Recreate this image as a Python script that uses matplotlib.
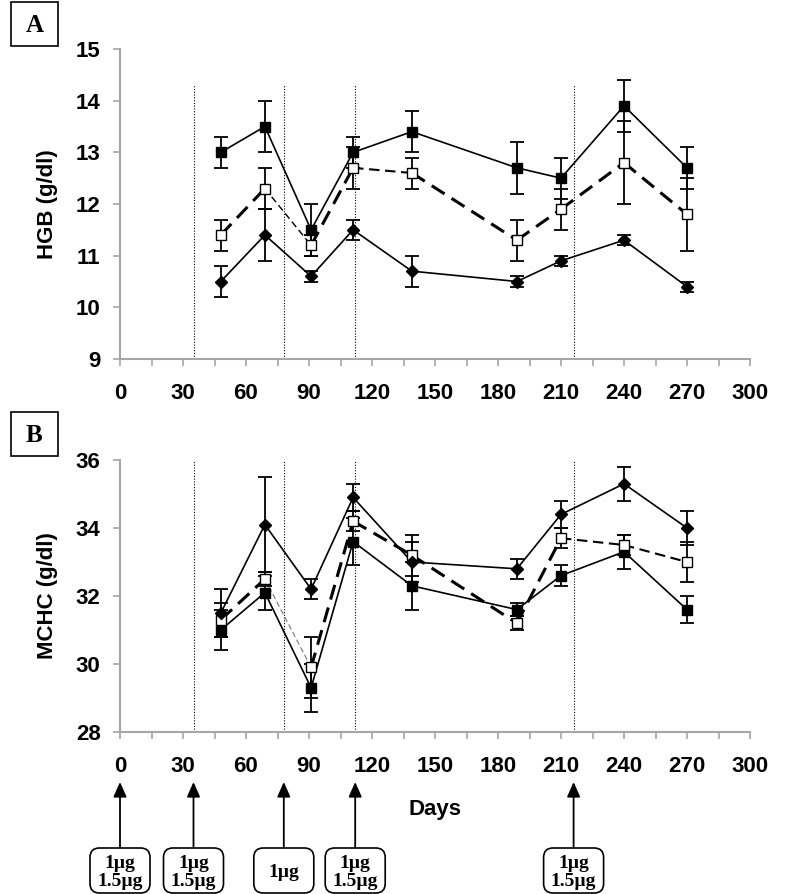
import matplotlib
matplotlib.use('Agg')
from matplotlib import pyplot as plt
from matplotlib.patches import FancyBboxPatch

# sampling days
days = [48, 69, 91, 111, 139, 189, 210, 240, 270]
# vaccination days (arrows / dotted lines)
dose_days = [0, 35, 78, 112, 216]
dose_labels = ['1\u00b5g\n1.5\u00b5g', '1\u00b5g\n1.5\u00b5g', '1\u00b5g', '1\u00b5g\n1.5\u00b5g', '1\u00b5g\n1.5\u00b5g']

# panel A: HGB (g/dl)
hgb_filled = [13.0, 13.5, 11.5, 13.0, 13.4, 12.7, 12.5, 13.9, 12.7]
hgb_filled_err = [0.3, 0.5, 0.5, 0.3, 0.4, 0.5, 0.4, 0.5, 0.4]
hgb_open = [11.4, 12.3, 11.2, 12.7, 12.6, 11.3, 11.9, 12.8, 11.8]
hgb_open_err = [0.3, 0.4, 0.2, 0.4, 0.3, 0.4, 0.4, 0.8, 0.7]
hgb_diamond = [10.5, 11.4, 10.6, 11.5, 10.7, 10.5, 10.9, 11.3, 10.4]
hgb_diamond_err = [0.3, 0.5, 0.1, 0.2, 0.3, 0.1, 0.1, 0.1, 0.1]

# panel B: MCHC (g/dl)
mchc_filled = [31.0, 32.1, 29.3, 33.6, 32.3, 31.6, 32.6, 33.3, 31.6]
mchc_filled_err = [0.6, 0.5, 0.7, 0.7, 0.7, 0.2, 0.3, 0.5, 0.4]
mchc_open = [31.3, 32.5, 29.9, 34.2, 33.2, 31.2, 33.7, 33.5, 33.0]
mchc_open_err = [0.5, 0.2, 0.9, 0.3, 0.6, 0.2, 0.3, 0.3, 0.6]
mchc_diamond = [31.5, 34.1, 32.2, 34.9, 33.0, 32.8, 34.4, 35.3, 34.0]
mchc_diamond_err = [0.7, 1.4, 0.3, 0.4, 0.6, 0.3, 0.4, 0.5, 0.5]

# width of each dashed segment (the original has uneven strokes)
a_dash_w = [2.2, 1.0, 2.2, 1.5, 2.2, 2.2, 2.2, 2.2]
b_dash_w = [2.2, 0.8, 2.2, 2.2, 2.2, 2.2, 1.5, 1.5]

W, H = 785, 894
AX_GREY = '#a6a6a6'
SANS = 'Liberation Sans'
SANS_SIZE = 16
SERIF = 'Liberation Serif'


def fig_rect(left, top, right, bottom):
    return [left / W, 1 - bottom / H, (right - left) / W, (bottom - top) / H]


def draw_panel(ax, filled, filled_err, opened, opened_err, diam, diam_err, dash_w, ylim, ystep, ylabel, vtop):
    ax.vlines(dose_days[1:], ylim[0], vtop, colors='black', linestyles=(0, (1, 1.5)), lw=0.8, zorder=1)

    ebk = dict(fmt='none', ecolor='black', elinewidth=1.3, capsize=5, capthick=1.3, zorder=3)
    ax.errorbar(days, filled, yerr=filled_err, **ebk)
    ax.errorbar(days, opened, yerr=opened_err, **ebk)
    ax.errorbar(days, diam, yerr=diam_err, **ebk)

    ax.plot(days, filled, color='black', lw=1.2, zorder=2)
    ax.plot(days, diam, color='black', lw=1.2, zorder=2)
    for i, w in enumerate(dash_w):
        col = 'black' if w >= 1 else '#777777'
        ax.plot(days[i:i + 2], opened[i:i + 2], color=col, lw=w, dashes=(5, 2.7), zorder=2)

    ax.plot(days, filled, ls='none', marker='s', ms=7.5, mfc='black', mec='black', zorder=4)
    ax.plot(days, opened, ls='none', marker='s', ms=6.5, mfc='white', mec='black', mew=1, zorder=4)
    ax.plot(days, diam, ls='none', marker='D', ms=6.5, mfc='black', mec='black', zorder=4)

    ax.set_xlim(0, 300)
    ax.set_ylim(*ylim)
    ax.set_xticks(range(0, 301, 30))
    ax.set_xticks(range(0, 301, 15), minor=True)
    ax.set_yticks(range(ylim[0], ylim[1] + 1, ystep))
    for s in ['top', 'right']:
        ax.spines[s].set_visible(False)
    for s in ['left', 'bottom']:
        ax.spines[s].set_color(AX_GREY)
        ax.spines[s].set_linewidth(1.5)
    ax.tick_params(axis='x', which='both', direction='out', length=5, width=1.2, color=AX_GREY, pad=12)
    ax.tick_params(axis='y', direction='out', length=5, width=1.2, color=AX_GREY, pad=9)
    for lab in ax.get_xticklabels() + ax.get_yticklabels():
        lab.set_fontfamily(SANS)
        lab.set_fontweight('bold')
        lab.set_fontsize(SANS_SIZE)
    ax.set_ylabel(ylabel, fontfamily=SANS, fontweight='bold', fontsize=SANS_SIZE, labelpad=13)
    ax.patch.set_alpha(0)


fig = plt.figure(figsize=(W / 100, H / 100), dpi=100)
ax_a = fig.add_axes(fig_rect(120, 49, 750, 359))
ax_b = fig.add_axes(fig_rect(120, 460, 750, 732))

draw_panel(ax_a, hgb_filled, hgb_filled_err, hgb_open, hgb_open_err, hgb_diamond, hgb_diamond_err,
           a_dash_w, (9, 15), 1, 'HGB (g/dl)', 14.3)
draw_panel(ax_b, mchc_filled, mchc_filled_err, mchc_open, mchc_open_err, mchc_diamond, mchc_diamond_err,
           b_dash_w, (28, 36), 2, 'MCHC (g/dl)', 36)

ax_b.set_xlabel('Days', fontfamily=SANS, fontweight='bold', fontsize=SANS_SIZE, labelpad=16)

# panel letters
for letter, top in [('A', 2), ('B', 412)]:
    fig.patches.append(FancyBboxPatch((11 / W, 1 - (top + 44) / H), 47 / W, 44 / H, boxstyle='square,pad=0',
                                      transform=fig.transFigure, fc='white', ec='black', lw=1.2))
    fig.text(34.5 / W, 1 - (top + 23) / H, letter, ha='center', va='center',
             fontfamily=SERIF, fontweight='bold', fontsize=18)

# dose arrows and boxes
box_w, box_top, box_bot = 60, 848, 893
for d, lab in zip(dose_days, dose_labels):
    ax_b.annotate('', xy=(d, 1 - 782 / H), xytext=(d, 1 - box_top / H),
                  xycoords=('data', 'figure fraction'), textcoords=('data', 'figure fraction'),
                  arrowprops=dict(arrowstyle='-|>,head_length=0.9,head_width=0.4', color='black', lw=1.3,
                                  shrinkA=0, shrinkB=0), annotation_clip=False)
    px = ax_b.transData.transform((d, 0))[0]
    fig.patches.append(FancyBboxPatch(((px - box_w / 2) / W, 1 - box_bot / H), box_w / W, (box_bot - box_top) / H,
                                      boxstyle='round,pad=0,rounding_size=0.012', transform=fig.transFigure,
                                      fc='white', ec='black', lw=1.2, mutation_aspect=W / H))
    fig.text(px / W, 1 - ((box_top + box_bot) / 2 + 2) / H, lab, ha='center', va='center',
             fontfamily=SERIF, fontweight='bold', fontsize=14, linespacing=1.1)

fig.savefig('out.png', dpi=100)
